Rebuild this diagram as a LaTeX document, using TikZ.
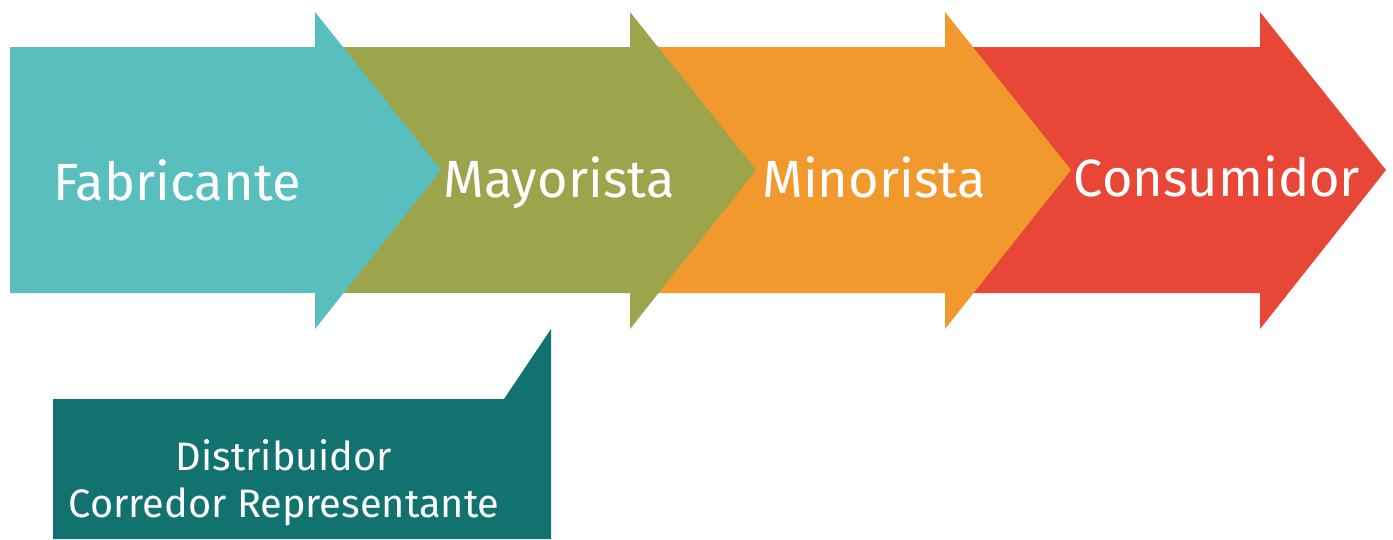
\documentclass[tikz,border=0pt]{standalone}
\usepackage{fontspec}
\setmainfont{Fira Sans}
\definecolor{fabteal}{HTML}{58BEBE}
\definecolor{mayolive}{HTML}{9CA54C}
\definecolor{minorange}{HTML}{F2992E}
\definecolor{consred}{HTML}{E84637}
\definecolor{distteal}{HTML}{117270}
\begin{document}
\begin{tikzpicture}[x=0.02cm,y=-0.02cm,
    stagetext/.style={text=white,inner sep=0,anchor=base,font=\fontsize{29.8}{36}\selectfont},
    disttext/.style={text=white,inner sep=0,anchor=base,align=center,font=\fontsize{22.6}{26.2}\selectfont}]
\useasboundingbox (0,0) rectangle (1393,539);
% arrows, back to front
\foreach \i/\c in {3/consred,2/minorange,1/mayolive,0/fabteal}
  \fill[\c] ({10+315*\i},47) -- ++(305,0) -- ++(0,-35) -- ++(126,158) -- ++(-126,159) -- ++(0,-36) -- ++(-305,0) -- cycle;
\fill[distteal] (53,399) -- (504,399) -- (551,329) -- (551,539) -- (53,539) -- cycle;
\node[stagetext] (fab) at (177,200) {Fabricante};
\node[stagetext] (mayo) at (559,197) {Mayorista};
\node[stagetext] (mino) at (874,197) {Minorista};
\node[stagetext] (cons) at (1217,196) {Consumidor};
\node[disttext] (dist) at (284,517) {Distribuidor\\Corredor Representante};
\end{tikzpicture}
\end{document}
